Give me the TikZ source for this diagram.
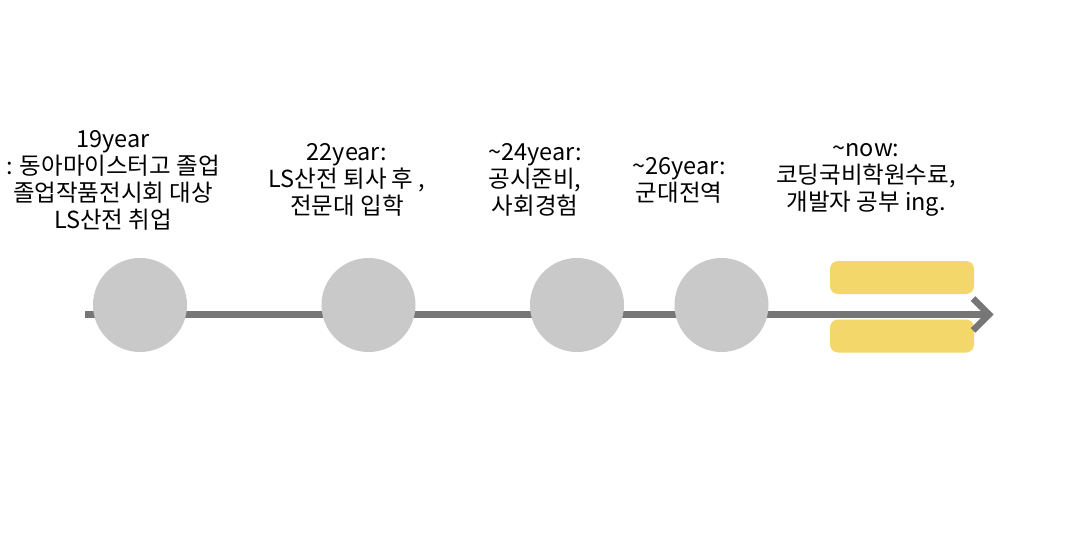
\documentclass[tikz,border=0pt]{standalone}
\usepackage{fontspec}
\setmainfont{Noto Sans CJK KR}
\definecolor{dotgray}{HTML}{C9C9C9}
\definecolor{linegray}{HTML}{767676}
\definecolor{baryellow}{HTML}{F4D76A}
\begin{document}
\begin{tikzpicture}[x=1pt,y=-1pt,
  label/.style={align=center,font=\fontsize{23.5}{27}\selectfont,inner sep=0pt,text=black},
  dot/.style={circle,fill=dotgray,minimum size=94pt,inner sep=0pt},
  bar/.style={fill=baryellow,rounded corners=8pt,minimum width=144pt,minimum height=33pt,inner sep=0pt},
  axis/.style={draw=linegray,line width=6.5pt}]
\useasboundingbox (0,0) rectangle (1080,555);
\fill[white] (0,0) rectangle (1080,555);
\coordinate (start) at (85,314.5);
\coordinate (end) at (989,314.5);
\node[bar] (b1) at (902,277.5) {};
\node[bar] (b2) at (902,336) {};
\draw[axis] (start) -- (end);
\draw[axis,line join=miter] ([shift={(-16,-16)}]end) -- (end) -- ([shift={(-16,16)}]end);
\node[dot] (c1) at (140,305) {};
\node[dot] (c2) at (368.5,305) {};
\node[dot] (c3) at (577,305) {};
\node[dot] (c4) at (721.5,305) {};
\node[label] (t1) at (113,180) {19year\\: 동아마이스터고 졸업\\졸업작품전시회 대상\\LS산전 취업};
\node[label] (t2) at (347,180) {22year:\\LS산전 퇴사 후 ,\\전문대 입학};
\node[label] (t3) at (535,180) {\textasciitilde24year:\\공시준비,\\사회경험};
\node[label] (t4) at (679,180) {\textasciitilde26year:\\군대전역};
\node[label] (t5) at (866,180) {\textasciitilde now:\\코딩국비학원수료,\\개발자 공부 ing.};
\end{tikzpicture}
\end{document}
